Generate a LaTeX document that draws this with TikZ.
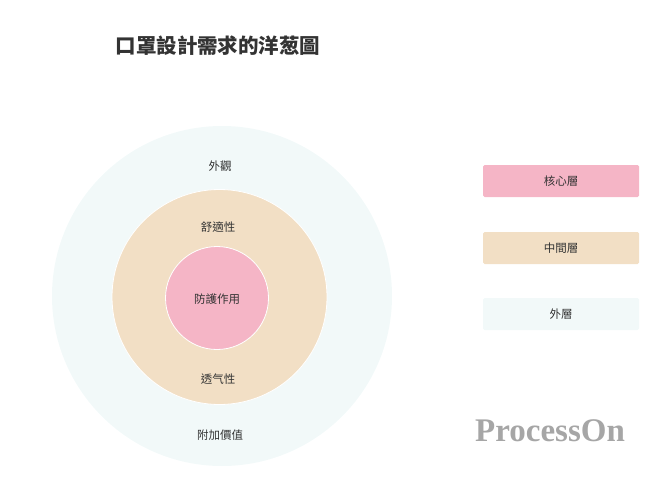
\documentclass[tikz,border=0pt]{standalone}
\usepackage{fontspec}
\setmainfont{Noto Sans CJK TC}
\newfontfamily\wm{Liberation Serif}
\definecolor{outerc}{HTML}{F2F9F9}
\definecolor{midc}{HTML}{F2DFC5}
\definecolor{innc}{HTML}{F5B5C6}
\definecolor{txt}{HTML}{333333}
\begin{document}
\begin{tikzpicture}[x=1pt,y=-1pt,
  lbl/.style={font=\fontsize{11.5}{13}\selectfont, text=txt},
  legbox/.style={minimum width=156pt, minimum height=32pt, inner sep=0pt, rounded corners=1.5pt, font=\fontsize{11.5}{13}\selectfont, text=txt}]
\useasboundingbox (0,0) rectangle (665,490);
\node[circle, fill=outerc, minimum size=340pt, inner sep=0pt] (outer) at (222,296) {};
\node[circle, fill=midc, draw=white, line width=0.8pt, minimum size=215pt, inner sep=0pt] (mid) at (219.5,297) {};
\node[circle, fill=innc, draw=white, line width=0.8pt, minimum size=103pt, inner sep=0pt] (inn) at (217,298) {};
\node[lbl] (t1) at (220,166) {外觀};
\node[lbl] (t2) at (218,227) {舒適性};
\node[lbl] (t3) at (217,299) {防護作用};
\node[lbl] (t4) at (218,379) {透气性};
\node[lbl] (t5) at (220,435) {附加價值};
\node[font=\bfseries\fontsize{20.5}{22}\selectfont, text=txt] (title) at (218,46) {口罩設計需求的洋葱圖};
\node[legbox, fill=innc] (l1) at (561,181) {核心層};
\node[legbox, fill=midc] (l2) at (561,248) {中間層};
\node[legbox, fill=outerc] (l3) at (561,314) {外層};
\node[font=\wm\bfseries\fontsize{33}{35}\selectfont, text=black!35] (wmk) at (550,431) {ProcessOn};
\end{tikzpicture}
\end{document}
